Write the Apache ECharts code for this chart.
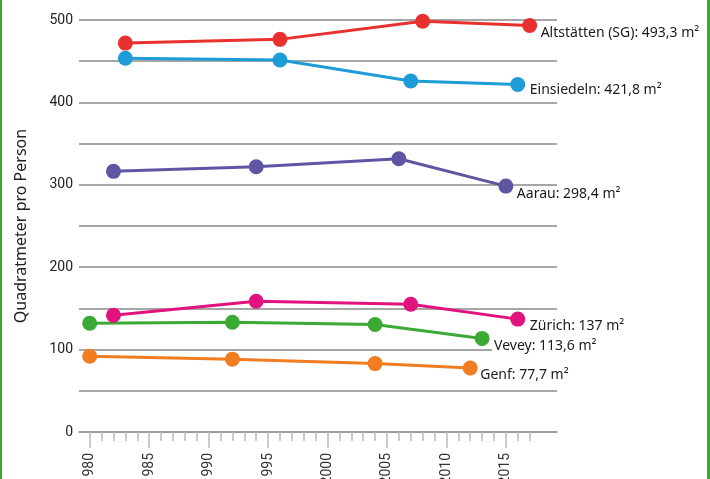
<!DOCTYPE html>
<html>
<head>
<meta charset="utf-8">
<script src="https://cdn.jsdelivr.net/npm/echarts@6/dist/echarts.min.js"></script>
<style>
  html, body { margin: 0; padding: 0; background: #fff; overflow: hidden; }
  #chart { width: 710px; height: 479px; }
  .frame { position: absolute; top: 0; width: 2px; height: 479px; background: #3aaa35; }
</style>
</head>
<body>
<div id="chart"></div>
<div class="frame" style="left:0"></div>
<div class="frame" style="left:707px;width:2.5px"></div>
<script>
// Wohnfläche pro Person, Quadratmeter
var cities = ['Altstätten (SG)', 'Einsiedeln', 'Aarau', 'Zürich', 'Vevey', 'Genf'];
var colors = ['#e8312f', '#1e9cd8', '#5e56a3', '#e2127f', '#3aaa35', '#f07d22'];
var endText = ['493,3', '421,8', '298,4', '137', '113,6', '77,7'];

var yearsAltstaetten = [1983, 1996, 2008, 2017];
var valsAltstaetten = [472, 476.5, 498.5, 493.3];
var yearsEinsiedeln = [1983, 1996, 2007, 2016];
var valsEinsiedeln = [453.5, 451.5, 426, 421.8];
var yearsAarau = [1982, 1994, 2006, 2015];
var valsAarau = [316.3, 321.9, 331.6, 298.4];
var yearsZuerich = [1982, 1994, 2007, 2016];
var valsZuerich = [141.7, 158.7, 155, 137];
var yearsVevey = [1980, 1992, 2004, 2013];
var valsVevey = [132, 133.2, 130.4, 113.6];
var yearsGenf = [1980, 1992, 2004, 2012];
var valsGenf = [92, 88.4, 83, 77.7];

var allYears = [yearsAltstaetten, yearsEinsiedeln, yearsAarau, yearsZuerich, yearsVevey, yearsGenf];
var allVals = [valsAltstaetten, valsEinsiedeln, valsAarau, valsZuerich, valsVevey, valsGenf];

var majorYears = [1980, 1985, 1990, 1995, 2000, 2005, 2010, 2015];
var minorYears = [];
for (var y = 1980; y <= 2017; y++) minorYears.push(y);

// label nudges (dx, dy) relative to last point
var labelOffset = [[1, 7], [2, 6], [1, 8], [2, 7], [2, 8], [0, 7]];

var font = 'Noto Sans';
var axisFont = 'Roboto';

var myChart = echarts.init(document.getElementById('chart'));

var series = [];
for (var i = 0; i < cities.length; i++) {
    var pts = [];
    for (var j = 0; j < allYears[i].length; j++) {
        pts.push([allYears[i][j], allVals[i][j]]);
    }
    (function (idx) {
        series.push({
            name: cities[idx],
            type: 'line',
            data: pts,
            symbol: 'circle',
            symbolSize: 15,
            lineStyle: { width: 3, color: colors[idx] },
            itemStyle: { color: colors[idx] },
            animation: false,
            endLabel: {
                show: true,
                formatter: function () { return cities[idx] + ': ' + endText[idx] + ' m²'; },
                offset: labelOffset[idx],
                fontFamily: font,
                fontSize: 14,
                color: '#1a1a1a',
                backgroundColor: '#fff',
                padding: [0, 2]
            }
        });
    })(i);
}

var option = {
    backgroundColor: '#fff',
    animation: false,
    grid: { left: 79, right: 153, top: 20, bottom: 47, outerBoundsMode: 'none' },
    xAxis: [{
        type: 'value',
        min: 1979.1,
        max: 2019.3,
        splitLine: { show: false },
        axisLine: { show: true, lineStyle: { color: '#999', width: 1.5 } },
        axisTick: { show: true, customValues: majorYears, length: 16, lineStyle: { color: '#bbb', width: 1.5 } },
        axisLabel: {
            customValues: majorYears,
            rotate: 90,
            margin: 21,
            fontFamily: axisFont,
            fontSize: 14,
            color: '#333',
            formatter: function (v) { return String(v); }
        }
    }, {
        type: 'value',
        position: 'bottom',
        min: 1979.1,
        max: 2019.3,
        splitLine: { show: false },
        axisLine: { show: false },
        axisTick: { show: true, customValues: minorYears, length: 9, lineStyle: { color: '#bbb', width: 1.5 } },
        axisLabel: { show: false }
    }],
    yAxis: {
        type: 'value',
        min: 0,
        max: 500,
        interval: 50,
        name: 'Quadratmeter pro Person',
        nameLocation: 'middle',
        nameGap: 50,
        nameTextStyle: { fontFamily: font, fontSize: 16, color: '#222' },
        axisLine: { show: false },
        axisTick: { show: false },
        axisLabel: {
            fontFamily: axisFont,
            fontSize: 14,
            color: '#222',
            margin: 6,
            formatter: function (v) { return v % 100 === 0 ? String(v) : ''; }
        },
        splitLine: { show: true, lineStyle: { color: '#888', width: 1.5 } }
    },
    series: series
};

myChart.setOption(option);
window.addEventListener('resize', function () {
    myChart.resize();
});
</script>
</body>
</html>
